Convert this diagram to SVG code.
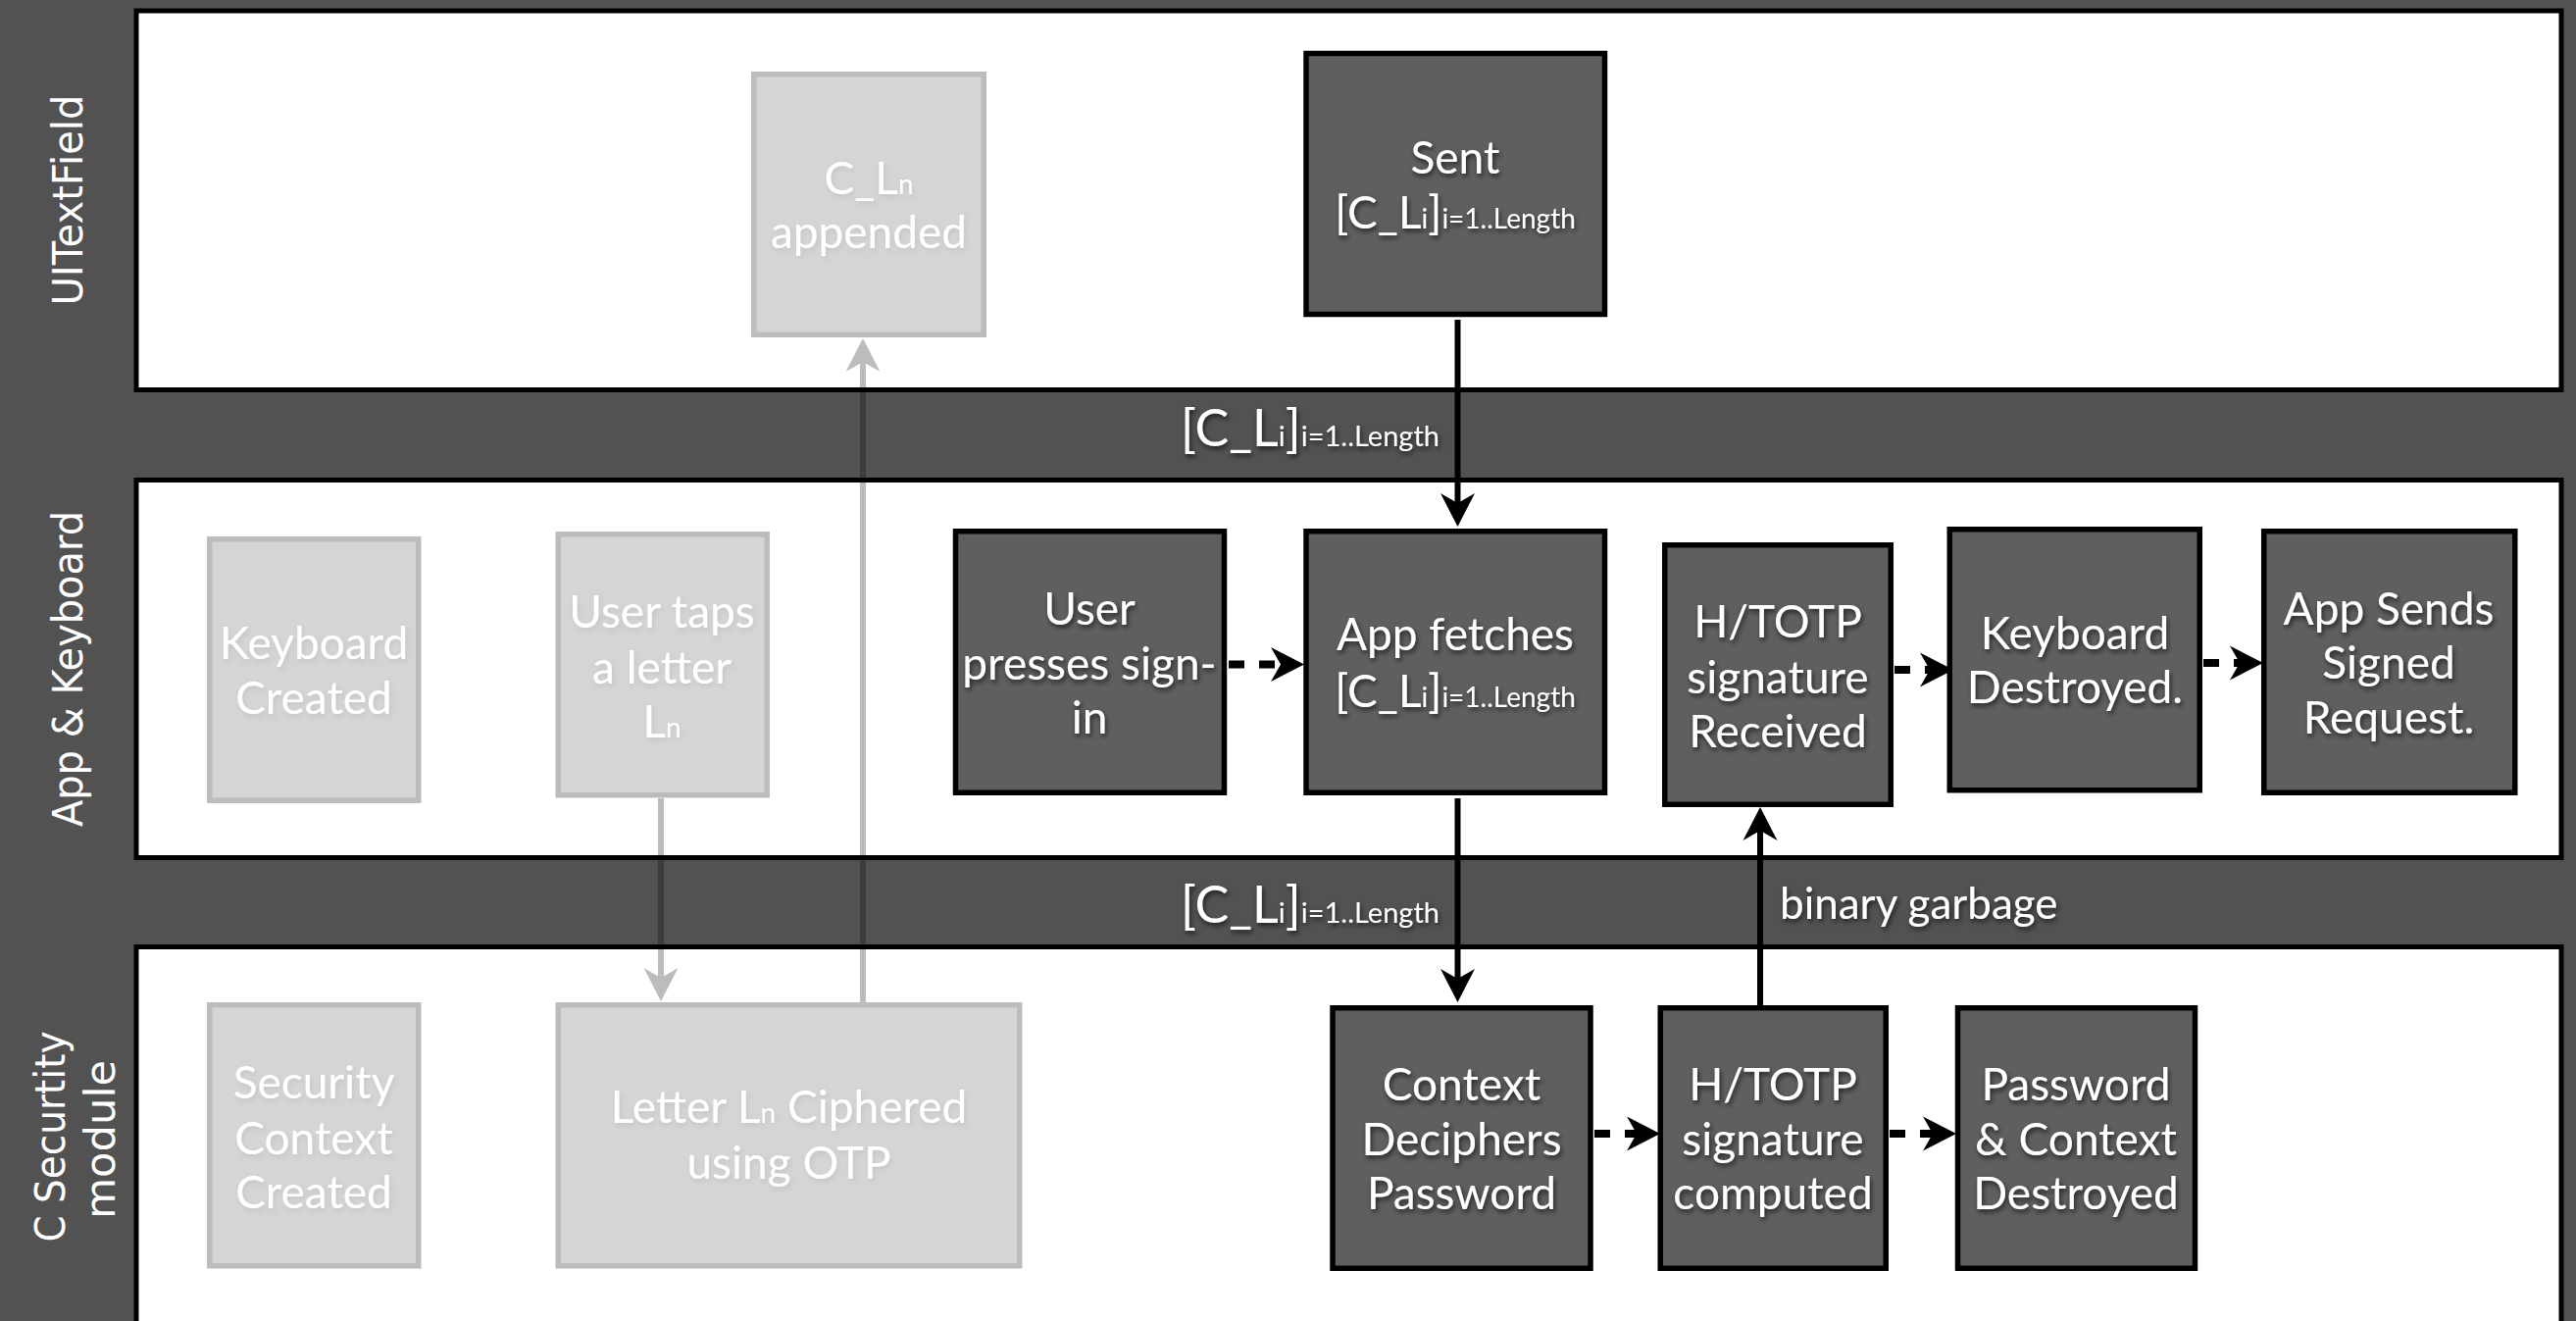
<svg xmlns="http://www.w3.org/2000/svg" width="2627" height="1347" viewBox="0 0 2627 1347">
  <style>
    .bg { fill: #525252; }
    .lane { fill: #ffffff; stroke: #000000; stroke-width: 5; }
    .lane-label { fill: #ffffff; font-family: "DejaVu Sans", "Liberation Sans", sans-serif; font-size: 42px; text-anchor: middle; }
    .node rect { fill: #5f5f5f; stroke: #000000; stroke-width: 5.5; }
    .node text, .edge-label { fill: #ffffff; font-family: Lato, "Open Sans", "Liberation Sans", sans-serif; font-size: 46px; text-anchor: middle; filter: url(#shadow); }
    .edge-label { font-size: 52px; }
    .edge-label.plain { font-size: 44px; }
    .sub { font-size: 28px; }
    .edge-label .sub { font-size: 29px; }
    .faded { opacity: 0.26; }
    .conn { fill: none; stroke: #000000; stroke-width: 6; marker-end: url(#head); }
    .dashed { stroke-width: 8; stroke-dasharray: 16 15; }
  </style>
  <defs>
    <filter id="shadow" x="-20%" y="-30%" width="140%" height="170%">
      <feDropShadow dx="1.5" dy="3" stdDeviation="2.5" flood-color="#000000" flood-opacity="0.65"/>
    </filter>
    <marker id="head" markerUnits="userSpaceOnUse" viewBox="-16 -19 38 38" refX="0" refY="0" markerWidth="38" markerHeight="38" orient="auto">
      <path d="M20,0 L-14,-17.5 L-4,0 L-14,17.5 Z" fill="#000000"/>
    </marker>
  </defs>

  <!-- backdrop and swimlanes -->
  <rect class="bg" x="0" y="0" width="2627" height="1347"/>
  <g id="lanes">
    <rect class="lane" x="139" y="11" width="2473" height="386.5"/>
    <rect class="lane" x="139" y="489.5" width="2473" height="385"/>
    <rect class="lane" x="139" y="965.5" width="2473" height="420"/>
    <text class="lane-label" transform="translate(84,204) rotate(-90)" textLength="215" lengthAdjust="spacingAndGlyphs">UITextField</text>
    <text class="lane-label" transform="translate(84,682) rotate(-90)" textLength="322" lengthAdjust="spacingAndGlyphs">App &amp; Keyboard</text>
    <text class="lane-label" transform="translate(66,1159) rotate(-90)" textLength="215" lengthAdjust="spacingAndGlyphs">C Securtity</text>
    <text class="lane-label" transform="translate(117,1162) rotate(-90)" textLength="162" lengthAdjust="spacingAndGlyphs">module</text>
  </g>

  <!-- connectors -->
  <g id="connectors">
    <g class="faded">
      <path class="conn" d="M674,814 V1001"/>
      <path class="conn" d="M880,1022 V365"/>
    </g>
    <path class="conn" d="M1486.5,326 V517"/>
    <path class="conn" d="M1486.5,814 V1002"/>
    <path class="conn" d="M1795,1026 V843"/>
    <path class="conn dashed" d="M1253,677.5 H1310"/>
    <path class="conn dashed" d="M1932,683 H1972"/>
    <path class="conn dashed" d="M2247,676 H2288"/>
    <path class="conn dashed" d="M1626,1156 H1673"/>
    <path class="conn dashed" d="M1927,1156 H1975"/>
    <text class="edge-label" x="1468" y="455" style="text-anchor:end">[C_L<tspan class="sub">i</tspan>]<tspan class="sub">i=1..Length</tspan></text>
    <text class="edge-label" x="1468" y="941" style="text-anchor:end">[C_L<tspan class="sub">i</tspan>]<tspan class="sub">i=1..Length</tspan></text>
    <text class="edge-label plain" x="1815" y="937" style="text-anchor:start">binary garbage</text>
  </g>

  <!-- UITextField lane -->
  <g id="node-appended" class="node faded">
    <rect x="768.75" y="75.75" width="234.5" height="265.5"/>
    <text x="886" y="198">C_L<tspan class="sub">n</tspan></text>
    <text x="886" y="253">appended</text>
  </g>
  <g id="node-sent" class="node">
    <rect x="1332" y="54.5" width="304.5" height="266"/>
    <text x="1484" y="177">Sent</text>
    <text x="1484" y="233">[C_L<tspan class="sub">i</tspan>]<tspan class="sub">i=1..Length</tspan></text>
  </g>

  <!-- App & Keyboard lane -->
  <g id="node-keyboard-created" class="node faded">
    <rect x="213.75" y="549.75" width="213" height="266.5"/>
    <text x="320" y="672">Keyboard</text>
    <text x="320" y="728">Created</text>
  </g>
  <g id="node-user-taps" class="node faded">
    <rect x="569.25" y="544.75" width="213" height="266"/>
    <text x="675" y="640">User taps</text>
    <text x="675" y="697">a letter</text>
    <text x="675" y="752">L<tspan class="sub">n</tspan></text>
  </g>
  <g id="node-user-presses" class="node">
    <rect x="974.5" y="541.75" width="274" height="266.5"/>
    <text x="1111" y="637">User</text>
    <text x="1111" y="693">presses sign-</text>
    <text x="1111" y="748">in</text>
  </g>
  <g id="node-app-fetches" class="node">
    <rect x="1332" y="541.75" width="304.5" height="266.5"/>
    <text x="1484" y="663">App fetches</text>
    <text x="1484" y="721">[C_L<tspan class="sub">i</tspan>]<tspan class="sub">i=1..Length</tspan></text>
  </g>
  <g id="node-signature-received" class="node">
    <rect x="1697.75" y="555.75" width="230.5" height="264.5"/>
    <text x="1813" y="650">H/TOTP</text>
    <text x="1813" y="707">signature</text>
    <text x="1813" y="762">Received</text>
  </g>
  <g id="node-keyboard-destroyed" class="node">
    <rect x="1988.25" y="539.75" width="255" height="266"/>
    <text x="2116" y="662">Keyboard</text>
    <text x="2116" y="717">Destroyed.</text>
  </g>
  <g id="node-app-sends" class="node">
    <rect x="2308.75" y="541.75" width="256" height="266.5"/>
    <text x="2436" y="637">App Sends</text>
    <text x="2436" y="692">Signed</text>
    <text x="2436" y="748">Request.</text>
  </g>

  <!-- C security module lane -->
  <g id="node-security-context" class="node faded">
    <rect x="213.75" y="1024.75" width="213" height="266"/>
    <text x="320" y="1120">Security</text>
    <text x="320" y="1177">Context</text>
    <text x="320" y="1232">Created</text>
  </g>
  <g id="node-letter-ciphered" class="node faded">
    <rect x="569.25" y="1024.75" width="470.5" height="266"/>
    <text x="804.5" y="1145">Letter L<tspan class="sub">n</tspan> Ciphered</text>
    <text x="804.5" y="1202">using OTP</text>
  </g>
  <g id="node-context-deciphers" class="node">
    <rect x="1359" y="1027.75" width="263" height="265.5"/>
    <text x="1490.5" y="1122">Context</text>
    <text x="1490.5" y="1178">Deciphers</text>
    <text x="1490.5" y="1233">Password</text>
  </g>
  <g id="node-signature-computed" class="node">
    <rect x="1693.25" y="1027.75" width="230" height="265.5"/>
    <text x="1808" y="1122">H/TOTP</text>
    <text x="1808" y="1178">signature</text>
    <text x="1808" y="1233">computed</text>
  </g>
  <g id="node-password-destroyed" class="node">
    <rect x="1996.5" y="1027.75" width="242" height="265.5"/>
    <text x="2117" y="1122">Password</text>
    <text x="2117" y="1178">&amp; Context</text>
    <text x="2117" y="1233">Destroyed</text>
  </g>
</svg>
